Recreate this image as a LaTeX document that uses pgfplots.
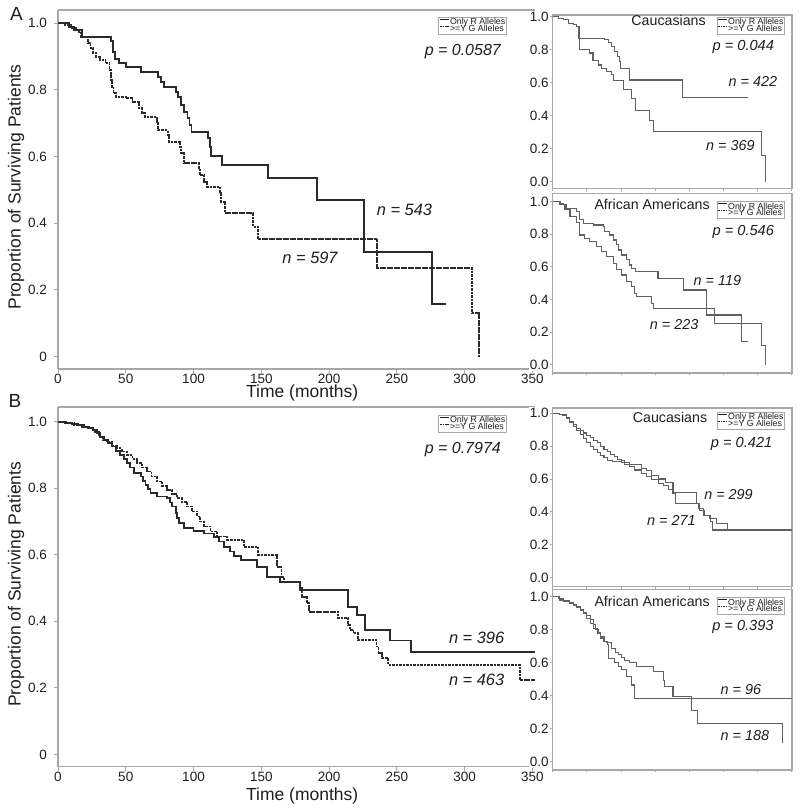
\documentclass[border=0pt]{standalone}
\usepackage{fontspec}
\setmainfont{Liberation Sans}
\usepackage{pgfplots}
\pgfplotsset{compat=1.18}
\definecolor{axgray}{HTML}{A8A8A8}
\definecolor{maincurve}{HTML}{2A2A2A}
\definecolor{smallcurve}{HTML}{606060}
\definecolor{txt}{HTML}{1E1E1E}
\pgfplotsset{
  kmbase/.style={
    scale only axis, xmin=0,
    axis line style={axgray, line width=0.6pt},
    tick style={axgray, line width=0.5pt},
    tick align=outside,
    /pgf/number format/assume math mode=true,
    legend cell align=left,
    legend style={draw=axgray, fill=white, line width=0.4pt,
      font=\fontsize{4.4}{4}\selectfont, inner sep=0.5pt,
      nodes={inner sep=0.2pt, text height=3.1pt, text depth=0.5pt, text=txt},
      anchor=north east, row sep=-0.6pt},
    legend image code/.code={\draw[##1, line width=0.45pt] (0pt,1.5pt) -- (4.5pt,1.5pt);},
  },
  mainax/.style={kmbase,
    width=238.5pt, xmax=352,
    xtick={0,50,100,150,200,250,300,350},
    ytick={0,0.2,0.4,0.6,0.8,1}, yticklabels={0,0.2,0.4,0.6,0.8,1.0},
    tick label style={font=\fontsize{6.75}{7}\selectfont, text=txt},
    xticklabel style={inner sep=0.4pt},
    major tick length=2pt,
    axis x line*=box, axis y line*=left,
    x axis line style={-}, y axis line style={-},
    xtick pos=bottom, ytick pos=left,
    xlabel={Time (months)}, ylabel={Proportion of Surviving Patients},
    label style={font=\fontsize{8.75}{9}\selectfont, text=txt},
    ylabel style={at={(axis description cs:-0.088,0.507)}, anchor=center},
  },
  smallax/.style={kmbase,
    width=119.65pt, xmax=350,
    xtick={0,50,100,150,200,250,300,350}, xticklabels={},
    ytick={0,0.2,0.4,0.6,0.8,1}, yticklabels={0.0,0.2,0.4,0.6,0.8,1.0},
    yticklabel style={font=\fontsize{6.75}{7}\selectfont, text=txt, fill=white, inner sep=0.6pt},
    major tick length=1.2pt,
    xtick pos=bottom, ytick pos=left,
  },
  mainsolid/.style={const plot, maincurve, line width=0.9pt, forget plot},
  maindash/.style={const plot, maincurve, line width=0.9pt, dash pattern=on 1.3pt off 0.45pt, forget plot},
  smallline/.style={const plot, smallcurve, line width=0.55pt, forget plot},
}
\newcommand{\kmlegend}{%
  \addlegendimage{txt}\addlegendentry{Only R Alleles}
  \addlegendimage{txt, dash pattern=on 0.8pt off 0.4pt}\addlegendentry{>=Y G Alleles}}
\begin{document}
\begin{tikzpicture}
\path[use as bounding box] (0pt,0pt) rectangle (400pt,405pt);
\node[font=\fontsize{9.5}{9.5}\selectfont, text=txt] at (8.25pt,398pt) {A};
\node[font=\fontsize{9.5}{9.5}\selectfont, text=txt] at (7.5pt,204.5pt) {B};

% ---------------- Main A ----------------
\begin{axis}[mainax, at={(29pt,400pt)}, anchor=north west, height=179.5pt,
  ymin=-0.037, ymax=1.04,
  xlabel style={at={(axis description cs:0.512,-0.068)}, anchor=center},
  legend style={at={(0.9415,0.9805)}}]
\kmlegend
\addplot[mainsolid] coordinates {
(0,1.0) (8,0.99) (12,0.98) (18,0.96) (39,0.948) (40.5,0.915) (42,0.892) (45,0.88)
(50,0.868) (61,0.854) (74,0.84) (76,0.825) (78.5,0.808) (87,0.795) (88.5,0.778)
(91,0.755) (93,0.735) (95.5,0.715) (97,0.695) (98.5,0.673) (110.5,0.655) (112,0.63)
(113,0.603) (120.8,0.575) (155.2,0.537) (191.3,0.47) (225.6,0.313) (276.2,0.157) (286,0.157)};
\addplot[maindash] coordinates {
(0,1.0) (5,0.995) (10,0.985) (14,0.975) (17,0.96) (22,0.94) (24,0.925) (26,0.91)
(28,0.90) (31,0.89) (35,0.88) (38,0.86) (39,0.83) (40,0.81) (41,0.79) (43,0.78)
(50,0.775) (55,0.765) (60,0.745) (62,0.73) (64,0.72) (73,0.70) (74,0.68) (81,0.665)
(82,0.645) (90,0.63) (91,0.61) (93,0.58) (104,0.565) (104.5,0.545) (108,0.525)
(109.7,0.51) (119.6,0.49) (120,0.465) (123.2,0.43) (144,0.39) (147.8,0.352)
(235.7,0.265) (305.7,0.13) (310.6,0.0)};
\node[anchor=east, font=\fontsize{8}{8}\selectfont\itshape, text=txt] at (axis cs:332,0.914) {p = 0.0587};
\node[font=\fontsize{8.2}{8}\selectfont\itshape, text=txt] at (axis cs:255.7,0.44) {n = 543};
\node[font=\fontsize{8.2}{8}\selectfont\itshape, text=txt] at (axis cs:186,0.296) {n = 597};
\end{axis}

% ---------------- Main B ----------------
\begin{axis}[mainax, at={(29pt,201.5pt)}, anchor=north west, height=179.85pt,
  ymin=-0.037, ymax=1.044,
  xlabel style={at={(axis description cs:0.512,-0.081)}, anchor=center},
  legend style={at={(0.9415,0.978)}}]
\kmlegend
\addplot[mainsolid] coordinates {
(0,1.0) (5,0.997) (10,0.993) (15,0.99) (19,0.985) (23,0.98) (26,0.975) (29,0.965)
(31,0.955) (34,0.945) (37,0.935) (40,0.925) (43,0.912) (46,0.9) (48.5,0.888)
(51,0.875) (53,0.862) (56,0.845) (61,0.835) (63,0.822) (64.6,0.81) (66.5,0.797)
(68.3,0.785) (73,0.775) (80.6,0.77) (82.5,0.757) (84.3,0.745) (86.8,0.725) (88,0.71)
(89.2,0.695) (93,0.68) (100,0.672) (107.7,0.664) (115,0.654) (118.8,0.64) (122.5,0.624)
(127,0.61) (130,0.597) (134.8,0.584) (146.6,0.564) (154,0.534) (163.8,0.519)
(178.6,0.494) (214.2,0.444) (220.4,0.419) (226.6,0.374) (245,0.342) (260.5,0.308) (352,0.308)};
\addplot[maindash] coordinates {
(0,1.0) (6,0.995) (12,0.99) (18,0.985) (22,0.98) (26,0.97) (30,0.955) (33,0.945)
(36,0.938) (40,0.928) (43.6,0.92) (47,0.91) (51,0.9) (55,0.888) (58.4,0.875)
(62,0.862) (65.8,0.85) (69,0.835) (73.2,0.82) (77,0.807) (80.6,0.795) (84,0.782)
(88,0.77) (91.5,0.758) (95.4,0.745) (99,0.73) (102.8,0.715) (105,0.7) (107.7,0.685)
(112.6,0.67) (117.6,0.655) (125,0.645) (137.3,0.624) (147.8,0.599) (161.4,0.564)
(165,0.534) (166.5,0.519) (178.6,0.499) (180,0.474) (183.5,0.454) (185,0.429)
(206.9,0.409) (214.2,0.389) (215.5,0.374) (218,0.364) (221.4,0.344) (235,0.324)
(236.5,0.304) (238.9,0.289) (243.8,0.269) (341,0.223) (352,0.223)};
\node[anchor=east, font=\fontsize{8}{8}\selectfont\itshape, text=txt] at (axis cs:332,0.915) {p = 0.7974};
\node[font=\fontsize{8.2}{8}\selectfont\itshape, text=txt] at (axis cs:308.9,0.35) {n = 396};
\node[font=\fontsize{8.2}{8}\selectfont\itshape, text=txt] at (axis cs:308.9,0.223) {n = 463};
\end{axis}

% ---------------- Small A: Caucasians ----------------
\begin{axis}[smallax, at={(276.35pt,397.5pt)}, anchor=north west, height=86.65pt,
  ymin=-0.04, ymax=1.01, legend style={at={(0.972,0.9886)}}]
\kmlegend
\addplot[smallline] coordinates {
(0,1.0) (8,0.99) (15.6,0.98) (22.9,0.96) (30,0.95) (35,0.94) (37.4,0.869) (76.3,0.86)
(81,0.844) (86,0.818) (90.8,0.788) (94.3,0.758) (97.2,0.727) (99.1,0.687) (112.7,0.616)
(190.5,0.511) (285.3,0.511)};
\addplot[smallline] coordinates {
(0,1.0) (8,0.99) (15.6,0.98) (22.9,0.96) (30,0.95) (35,0.94) (38.8,0.80) (54.4,0.78)
(59,0.737) (66.5,0.707) (71.4,0.687) (78.7,0.667) (86,0.65) (88.4,0.612) (103,0.556)
(115,0.505) (121,0.434) (141.9,0.37) (147.7,0.303) (305.7,0.156) (310.6,0.0)};
\node[font=\fontsize{7.1}{7}\selectfont, text=txt] at (axis cs:169.5,0.98) {Caucasians};
\node[anchor=east, font=\fontsize{7.3}{7}\selectfont\itshape, text=txt] at (axis cs:334,0.818) {p = 0.044};
\node[font=\fontsize{7.2}{7}\selectfont\itshape, text=txt] at (axis cs:292.7,0.606) {n = 422};
\node[font=\fontsize{7.2}{7}\selectfont\itshape, text=txt] at (axis cs:259.9,0.222) {n = 369};
\end{axis}

% ---------------- Small A: African Americans ----------------
\begin{axis}[smallax, at={(276.35pt,308.35pt)}, anchor=north west, height=89.85pt,
  ymin=-0.049, ymax=1.051, legend style={at={(0.972,0.957)}}]
\kmlegend
\addplot[smallline] coordinates {
(0,1.0) (10,0.99) (15.6,0.98) (20.4,0.96) (35,0.94) (38.8,0.888) (44.7,0.867)
(59.2,0.857) (73.8,0.847) (76.3,0.816) (83.6,0.796) (88.4,0.765) (93.3,0.735)
(95.7,0.704) (100.6,0.673) (107.9,0.643) (111.8,0.612) (115.2,0.592) (121.5,0.571)
(154,0.531) (191.5,0.459) (225.5,0.306) (275.6,0.143) (285.3,0.143)};
\addplot[smallline] coordinates {
(0,1.0) (10.7,0.98) (18,0.95) (25.3,0.91) (35,0.87) (39.8,0.796) (47,0.776) (54.4,0.755)
(64,0.724) (71.4,0.694) (78.7,0.663) (88.4,0.622) (93.3,0.582) (100.6,0.551)
(107.9,0.51) (115.2,0.48) (120,0.439) (122.4,0.418) (144,0.378) (147.7,0.347)
(236.7,0.255) (305.7,0.122) (310.6,0.0)};
\node[font=\fontsize{7.1}{7}\selectfont, text=txt] at (axis cs:145.4,0.98) {African Americans};
\node[anchor=east, font=\fontsize{7.3}{7}\selectfont\itshape, text=txt] at (axis cs:334,0.815) {p = 0.546};
\node[font=\fontsize{7.2}{7}\selectfont\itshape, text=txt] at (axis cs:240.9,0.516) {n = 119};
\node[font=\fontsize{7.2}{7}\selectfont\itshape, text=txt] at (axis cs:177.6,0.245) {n = 223};
\end{axis}

% ---------------- Small B: Caucasians ----------------
\begin{axis}[smallax, at={(276.35pt,201pt)}, anchor=north west, height=89.35pt,
  ymin=-0.055, ymax=1.032, legend style={at={(0.972,0.978)}}]
\kmlegend
\addplot[smallline] coordinates {
(0,1.0) (10,0.995) (20,0.975) (25,0.95) (30,0.93) (35,0.91) (40,0.895) (45,0.88)
(50,0.865) (55,0.85) (60,0.835) (65,0.82) (70,0.80) (75,0.78) (80,0.765) (85,0.75)
(90,0.735) (95,0.72) (100,0.71) (105,0.70) (112,0.69) (130,0.665) (137,0.65)
(145,0.62) (155,0.60) (165,0.58) (176,0.52) (210,0.45) (215,0.41) (222,0.38)
(230,0.36) (240,0.33) (256,0.29) (350,0.29)};
\addplot[smallline] coordinates {
(0,1.0) (10,0.995) (15,0.985) (20,0.97) (25,0.945) (30,0.92) (35,0.895) (40,0.87)
(45,0.845) (50,0.82) (55,0.80) (60,0.78) (65,0.76) (70,0.745) (75,0.73) (80,0.715)
(88,0.708) (100,0.70) (105,0.69) (112,0.676) (120,0.655) (130,0.635) (137,0.616)
(145,0.595) (155,0.575) (162,0.56) (170,0.535) (176,0.514) (180,0.453) (210,0.453)
(214,0.42) (221,0.38) (231,0.34) (234,0.29) (350,0.29)};
\node[font=\fontsize{7.1}{7}\selectfont, text=txt] at (axis cs:171.6,0.972) {Caucasians};
\node[anchor=east, font=\fontsize{7.3}{7}\selectfont\itshape, text=txt] at (axis cs:331.5,0.812) {p = 0.421};
\node[font=\fontsize{7.2}{7}\selectfont\itshape, text=txt] at (axis cs:257.1,0.503) {n = 299};
\node[font=\fontsize{7.2}{7}\selectfont\itshape, text=txt] at (axis cs:173.7,0.345) {n = 271};
\end{axis}

% ---------------- Small B: African Americans ----------------
\begin{axis}[smallax, at={(276.35pt,110.35pt)}, anchor=north west, height=90.35pt,
  ymin=-0.05, ymax=1.045, legend style={at={(0.972,0.957)}}]
\kmlegend
\addplot[smallline] coordinates {
(0,1.0) (8,0.99) (15.5,0.97) (25,0.96) (30,0.95) (35,0.935) (40,0.919) (45,0.9)
(50,0.87) (55,0.84) (60,0.81) (65,0.78) (70,0.75) (75,0.73) (80,0.71) (82.1,0.626)
(90,0.6) (95.7,0.576) (100,0.56) (107.9,0.515) (115.2,0.465) (120,0.384) (350,0.384)};
\addplot[smallline] coordinates {
(0,1.0) (10,0.98) (15.5,0.975) (25,0.965) (30,0.955) (35,0.94) (40,0.925) (45,0.905)
(50,0.885) (55,0.86) (60,0.83) (63,0.80) (66.5,0.78) (70,0.76) (75,0.73) (78.7,0.72)
(86,0.687) (92,0.66) (95.7,0.65) (100,0.63) (105.4,0.616) (112,0.60) (122.5,0.576)
(146.8,0.545) (161.4,0.495) (163.8,0.455) (176,0.394) (202.7,0.313) (212.4,0.232)
(336.4,0.111)};
\node[font=\fontsize{7.1}{7}\selectfont, text=txt] at (axis cs:145.4,0.97) {African Americans};
\node[anchor=east, font=\fontsize{7.3}{7}\selectfont\itshape, text=txt] at (axis cs:333.4,0.82) {p = 0.393};
\node[font=\fontsize{7.2}{7}\selectfont\itshape, text=txt] at (axis cs:275.2,0.44) {n = 96};
\node[font=\fontsize{7.2}{7}\selectfont\itshape, text=txt] at (axis cs:281.2,0.158) {n = 188};
\end{axis}
\end{tikzpicture}
\end{document}
